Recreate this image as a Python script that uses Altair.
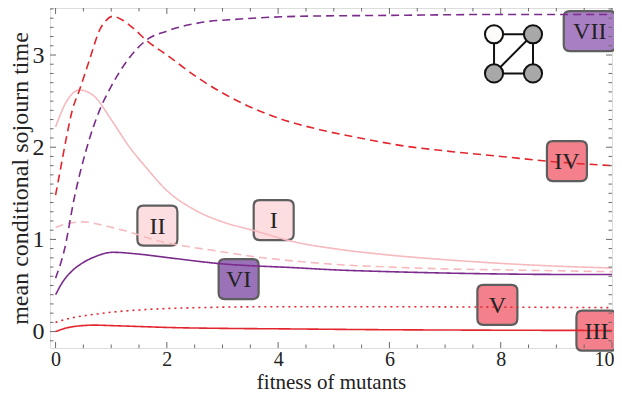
import altair as alt
import pandas as pd
import numpy as np

# ---- curve data ----
x_I = [0, 0.2, 0.43, 0.7, 1.0, 1.33, 1.6, 2.0, 2.5, 3.0, 3.54, 4.39, 5, 6, 7, 8, 9, 10]
y_I = [2.22, 2.5, 2.62, 2.55, 2.3, 2.0, 1.8, 1.53, 1.32, 1.19, 1.10, 0.96, 0.90, 0.83, 0.78, 0.74, 0.71, 0.69]

x_II = [0, 0.2, 0.5, 0.8, 1.27, 1.87, 2.4, 2.95, 3.6, 4.39, 5, 6, 7, 8, 9, 10]
y_II = [1.13, 1.17, 1.19, 1.16, 1.09, 0.98, 0.92, 0.87, 0.81, 0.76, 0.73, 0.70, 0.68, 0.67, 0.66, 0.65]

x_III = [0, 0.2, 0.4, 0.7, 1.0, 1.5, 2.0, 3.0, 4.0, 6.0, 8.0, 10]
y_III = [0.0, 0.04, 0.06, 0.07, 0.065, 0.055, 0.045, 0.035, 0.03, 0.02, 0.015, 0.012]

x_IV = [0, 0.1, 0.2, 0.3, 0.43, 0.6, 0.8, 0.9, 1.03, 1.2, 1.4, 1.63, 2.0, 2.59, 3.31, 4.03, 4.75, 5.47, 6.19, 7, 8, 9, 10]
y_IV = [1.48, 1.8, 2.12, 2.4, 2.62, 2.93, 3.28, 3.37, 3.42, 3.38, 3.29, 3.16, 3.0, 2.74, 2.49, 2.31, 2.19, 2.10, 2.02, 1.96, 1.90, 1.84, 1.80]

x_V = [0, 0.3, 0.6, 1.0, 1.5, 2.0, 3.0, 4.0, 6.0, 8.0, 10]
y_V = [0.10, 0.15, 0.18, 0.21, 0.235, 0.25, 0.265, 0.27, 0.27, 0.265, 0.26]

x_VI = [0, 0.13, 0.3, 0.5, 0.7, 1.03, 1.5, 2.05, 2.9, 4.39, 5, 6, 7, 8, 9, 10]
y_VI = [0.40, 0.54, 0.66, 0.75, 0.81, 0.86, 0.84, 0.80, 0.74, 0.69, 0.67, 0.65, 0.635, 0.625, 0.62, 0.62]

x_VII = [0, 0.16, 0.34, 0.55, 0.79, 1.0, 1.3, 1.63, 2.0, 2.59, 3.31, 4.39, 6, 8, 10]
y_VII = [0.58, 0.89, 1.46, 1.97, 2.4, 2.66, 2.95, 3.16, 3.26, 3.35, 3.39, 3.42, 3.43, 3.44, 3.44]

series_names = ["I", "II", "III", "IV", "V", "VI", "VII"]
series_x = [x_I, x_II, x_III, x_IV, x_V, x_VI, x_VII]
series_y = [y_I, y_II, y_III, y_IV, y_V, y_VI, y_VII]

# ---- label boxes ----
label_names = ["I", "II", "III", "IV", "V", "VI"]
label_x = [3.92, 1.83, 9.72, 9.19, 7.94, 3.29]
label_y = [1.21, 1.15, 0.01, 1.85, 0.29, 0.57]
wide_label = ["VII"]
wide_x = [9.6]
wide_y = [3.26]

# ---- graph icon (nodes and edges) ----
node_id = ["a", "b", "c", "d"]
node_x = [7.88, 8.58, 7.88, 8.58]
node_y = [3.225, 3.225, 2.80, 2.80]
node_kind = ["white", "grey", "grey", "grey"]
edges = [("a", "b"), ("a", "c"), ("b", "d"), ("c", "d"), ("c", "b")]

# ---- ticks ----
x_major = [0, 2, 4, 6, 8, 10]
x_minor = [0.5, 1, 1.5, 2.5, 3, 3.5, 4.5, 5, 5.5, 6.5, 7, 7.5, 8.5, 9, 9.5]
y_major = [0, 1, 2, 3]
y_minor = [v for v in np.round(np.arange(-0.1, 3.51, 0.1), 2).tolist() if abs(v - round(v)) > 1e-6]

W, H = 562, 340
xdom = [-0.1, 10]
ydom = [-0.178, 3.51]
FONT = "Liberation Serif"

xs = alt.Scale(domain=xdom, nice=False, zero=False)
ys = alt.Scale(domain=ydom, nice=False, zero=False)

X_AXIS = alt.Axis(
    values=x_major, title="fitness of mutants", ticks=False, domain=False, grid=False,
    labelFont=FONT, labelFontSize=20, labelColor="#222", labelPadding=1,
    labelFlush=1, labelFlushOffset=2,
    titleFont=FONT, titleFontSize=21, titleFontWeight="normal", titleColor="#222", titlePadding=2)
Y_AXIS = alt.Axis(
    values=y_major, title="mean conditional sojourn time", ticks=False, domain=False, grid=False,
    labelFont=FONT, labelFontSize=24, labelColor="#222", labelPadding=6, labelFlush=False,
    titleFont=FONT, titleFontSize=24, titleFontWeight="normal", titleColor="#222", titlePadding=0)

def X(field="x"):
    return alt.X(f"{field}:Q", scale=xs, axis=X_AXIS, title="fitness of mutants")

def Y(field="y"):
    return alt.Y(f"{field}:Q", scale=ys, axis=Y_AXIS, title="mean conditional sojourn time")

rows = []
for n, xx, yy in zip(series_names, series_x, series_y):
    for a, b in zip(xx, yy):
        rows.append({"series": n, "x": a, "y": b})
lines_df = pd.DataFrame(rows)

line_colors = ["#f6b9be", "#f6b9be", "#e3262e", "#e3262e", "#e3262e", "#7b2b8c", "#7b2b8c"]
line_dash = [[1, 0], [8, 5], [1, 0], [8, 5], [2, 4], [1, 0], [8, 5]]

lines = alt.Chart(lines_df).mark_line(strokeWidth=1.6, interpolate="monotone", clip=True).encode(
    x=X(), y=Y(),
    color=alt.Color("series:N", scale=alt.Scale(domain=series_names, range=line_colors), legend=None),
    strokeDash=alt.StrokeDash("series:N", scale=alt.Scale(domain=series_names, range=line_dash), legend=None),
    detail="series:N",
)

box_domain = ["I", "II", "III", "IV", "V", "VI", "VII"]
box_fill = ["#fcdde0", "#fcdde0", "#f3808a", "#f3808a", "#f3808a", "#9a72b8", "#a97fc4"]

sq_path = "M-0.7,-1H0.7Q1,-1,1,-0.7V0.7Q1,1,0.7,1H-0.7Q-1,1,-1,0.7V-0.7Q-1,-1,-0.7,-1Z"
wide_path = "M-1.0,-1H1.0Q1.3,-1,1.3,-0.7V0.7Q1.3,1,1.0,1H-1.0Q-1.3,1,-1.3,0.7V-0.7Q-1.3,-1,-1.0,-1Z"

lab_df = pd.DataFrame({"name": label_names, "x": label_x, "y": label_y})
wide_df = pd.DataFrame({"name": wide_label, "x": wide_x, "y": wide_y})

box_colors = dict(zip(box_domain, box_fill))
lab_df["fill"] = [box_colors[n] for n in label_names]
wide_df["fill"] = [box_colors[n] for n in wide_label]

def boxes(df, path):
    return alt.Chart(df).mark_point(shape=path, size=1600, filled=True, opacity=1,
                                    stroke="#5e5e5e", strokeWidth=2.2).encode(
        x=X(), y=Y(),
        fill=alt.Fill("fill:N", scale=None),
    )

def texts(df):
    return alt.Chart(df).mark_text(font=FONT, fontSize=24, color="#222", baseline="middle", dy=1).encode(
        x=X(), y=Y(), text="name:N",
    )

node_colors = {"white": "#fdfbf9", "grey": "#a8a8a8"}
nodes_df = pd.DataFrame({"id": node_id, "x": node_x, "y": node_y, "kind": node_kind})
nodes_df["fill"] = [node_colors[k] for k in node_kind]
pos = {i: (a, b) for i, a, b in zip(node_id, node_x, node_y)}
edges_df = pd.DataFrame([{"x": pos[s][0], "y": pos[s][1], "x2": pos[t][0], "y2": pos[t][1]} for s, t in edges])

edge_layer = alt.Chart(edges_df).mark_rule(color="#111", strokeWidth=2).encode(
    x=X(), y=Y(), x2="x2:Q", y2="y2:Q")
node_layer = alt.Chart(nodes_df).mark_point(shape="circle", size=330, filled=True, opacity=1,
                                            stroke="#111", strokeWidth=2).encode(
    x=X(), y=Y(), fill=alt.Fill("fill:N", scale=None))

TC = "#6a6a6a"

def xticks(vals, length):
    df = pd.DataFrame({"x": vals})
    bottom = alt.Chart(df).mark_rule(color=TC, strokeWidth=1).encode(
        x=X(), y=alt.value(H), y2=alt.value(H - length))
    top = alt.Chart(df).mark_rule(color=TC, strokeWidth=1).encode(
        x=X(), y=alt.value(0), y2=alt.value(length))
    return [bottom, top]

def yticks(vals, length):
    df = pd.DataFrame({"y": vals})
    left = alt.Chart(df).mark_rule(color=TC, strokeWidth=1).encode(
        y=Y(), x=alt.value(0), x2=alt.value(length))
    right = alt.Chart(df).mark_rule(color=TC, strokeWidth=1).encode(
        y=Y(), x=alt.value(W), x2=alt.value(W - length))
    return [left, right]

tick_layers = xticks(x_major, 6) + xticks(x_minor, 3.5) + yticks(y_major, 6) + yticks(y_minor, 3.5)

chart = alt.layer(
    boxes(lab_df, sq_path), boxes(wide_df, wide_path),
    lines,
    edge_layer, node_layer,
    texts(lab_df), texts(wide_df),
    *tick_layers,
).properties(
    width=W, height=H,
    autosize=alt.AutoSizeParams(type="none"),
    padding={"left": 42, "top": 0, "right": 2, "bottom": 44},
).configure_view(stroke="#6a6a6a", strokeWidth=1.3).configure(background="white")

chart.save("out.html", embed_options={"renderer": "svg", "actions": False})
